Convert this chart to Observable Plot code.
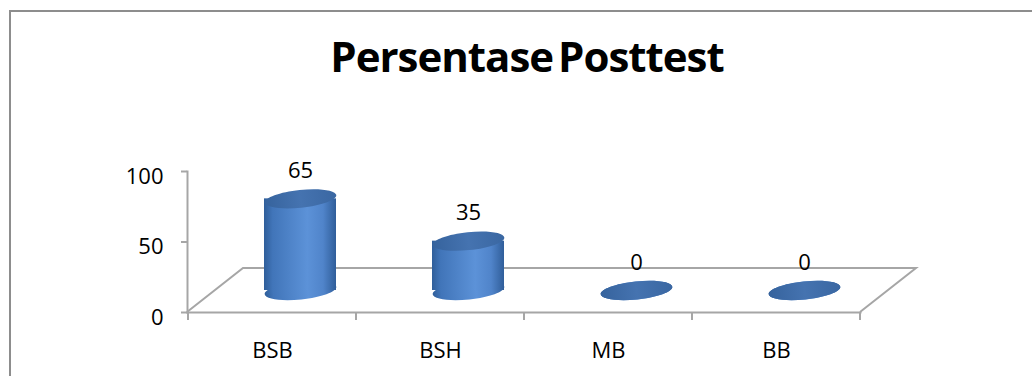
<!DOCTYPE html>
<html>
<head>
<meta charset="utf-8">
<script src="https://cdn.jsdelivr.net/npm/d3@7"></script>
<script src="https://cdn.jsdelivr.net/npm/@observablehq/plot@0.6"></script>
<style>
  html, body { margin: 0; padding: 0; background: #fff; overflow: hidden; width: 1032px; height: 376px; }
  #frame { position: absolute; left: 9px; top: 10px; width: 1080px; height: 420px; border: 2px solid #8d8d8d; box-sizing: border-box; }
  #title { position: absolute; left: 0; top: 35px; width: 1054px; margin: 0; text-align: center;
           font: 700 42px/42px "Open Sans", sans-serif; letter-spacing: -1px; word-spacing: -5px; color: #000; }
  #chart { position: absolute; left: 0; top: 0; }
</style>
</head>
<body>
<div id="frame"></div>
<h1 id="title">Persentase Posttest</h1>
<div id="chart"></div>
<script>
// Categories, values and axis ticks
const categories = ["BSB", "BSH", "MB", "BB"];
const values = [65, 35, 0, 0];
const yTicks = [0, 50, 100];

const rows = categories.map((category, i) => ({category, value: values[i]}));

const axisGray = "#a6a6a6";
const depth = [56, -44];                 // floor depth (pixels)
const half = [depth[0] / 2, depth[1] / 2]; // cylinders stand mid-depth
const tilt = -6;                         // ellipse tilt (degrees)

// Ellipse symbol for cylinder caps: horizontal radius from the dot size
const ellipse = {
  draw(ctx, size) {
    const rx = Math.sqrt(size / Math.PI), ry = rx * 0.25, k = 0.5523;
    ctx.moveTo(rx, 0);
    ctx.bezierCurveTo(rx, k * ry, k * rx, ry, 0, ry);
    ctx.bezierCurveTo(-k * rx, ry, -rx, k * ry, -rx, 0);
    ctx.bezierCurveTo(-rx, -k * ry, -k * rx, -ry, 0, -ry);
    ctx.bezierCurveTo(k * rx, -ry, rx, -k * ry, rx, 0);
    ctx.closePath();
  }
};

// Shading gradients for the cylinder side and top
function gradients() {
  const g = d3.create("svg:g");
  const defs = g.append("defs");
  const side = defs.append("linearGradient").attr("id", "cyl-side")
    .attr("x1", 0).attr("x2", 1).attr("y1", 0).attr("y2", 0);
  [[0, "#2f5e9a"], [0.12, "#4175b9"], [0.6, "#5c92d8"], [0.82, "#5084ca"], [1, "#305e9a"]]
    .forEach(([o, c]) => side.append("stop").attr("offset", o).attr("stop-color", c));
  const top = defs.append("linearGradient").attr("id", "cyl-top")
    .attr("x1", 0).attr("x2", 1).attr("y1", 0).attr("y2", 0);
  [[0, "#36639d"], [0.5, "#4573b0"], [1, "#3a67a2"]]
    .forEach(([o, c]) => top.append("stop").attr("offset", o).attr("stop-color", c));
  return g.node();
}

// Floor outline behind the bars, plus category ticks at band edges
function floor(index, scales, channels, dims) {
  const {width, marginLeft, marginRight} = dims;
  const y0 = scales.y(0);
  const xl = marginLeft, xr = width - marginRight;
  const bw = scales.x.bandwidth ? scales.x.bandwidth() : (xr - xl) / categories.length;
  const edges = categories.map((c) => scales.x(c)).concat(scales.x(categories[categories.length - 1]) + bw);
  const g = d3.create("svg:g").attr("fill", "none").attr("stroke", axisGray).attr("stroke-width", 2);
  g.append("path").attr("d",
    `M${xl},${y0}L${xl + depth[0]},${y0 + depth[1]}L${xr + depth[0]},${y0 + depth[1]}L${xr},${y0}`);
  g.append("path").attr("d", edges.map((x) => `M${x},${y0}v8`).join(""));
  return g.node();
}

const chart = Plot.plot({
  width: 1032,
  height: 376,
  marginLeft: 187,
  marginRight: 172,
  marginTop: 171,
  marginBottom: 64,
  style: {fontFamily: "'Open Sans', sans-serif", fontSize: "22px", background: "transparent", overflow: "visible", color: "#000"},
  x: {domain: categories, padding: 0},
  y: {domain: [0, 100]},
  marks: [
    gradients,
    floor,
    Plot.frame({anchor: "left", stroke: axisGray, strokeWidth: 2}),
    Plot.frame({anchor: "bottom", stroke: axisGray, strokeWidth: 2}),
    Plot.axisY(yTicks, {tickSize: 6, tickFormat: () => "", stroke: axisGray, strokeWidth: 2, label: null}),
    Plot.axisY(yTicks, {tickSize: 0, tickPadding: 24, dy: 5, fontSize: 22, fill: "#000", label: null}),
    Plot.axisX({tickSize: 0, tickPadding: 30, fontSize: 22, fill: "#000", label: null}),
    // cylinder base, side and top
    Plot.dot(rows, {x: "category", y: () => 0, r: 36, symbol: ellipse, rotate: tilt,
      dx: half[0], dy: half[1], fill: "url(#cyl-side)", stroke: "none"}),
    Plot.barY(rows, {x: "category", y: "value", insetLeft: 48, insetRight: 48,
      dx: half[0], dy: half[1], fill: "url(#cyl-side)"}),
    Plot.dot(rows, {x: "category", y: "value", r: 36, symbol: ellipse, rotate: tilt,
      dx: half[0], dy: half[1], fill: "url(#cyl-top)", stroke: "none"}),
    // value labels
    Plot.text(rows, {x: "category", y: "value", text: (d) => String(d.value),
      dx: half[0], dy: -50, fontSize: 22, fill: "#000"})
  ]
});

document.getElementById("chart").appendChild(chart);
</script>
</body>
</html>
